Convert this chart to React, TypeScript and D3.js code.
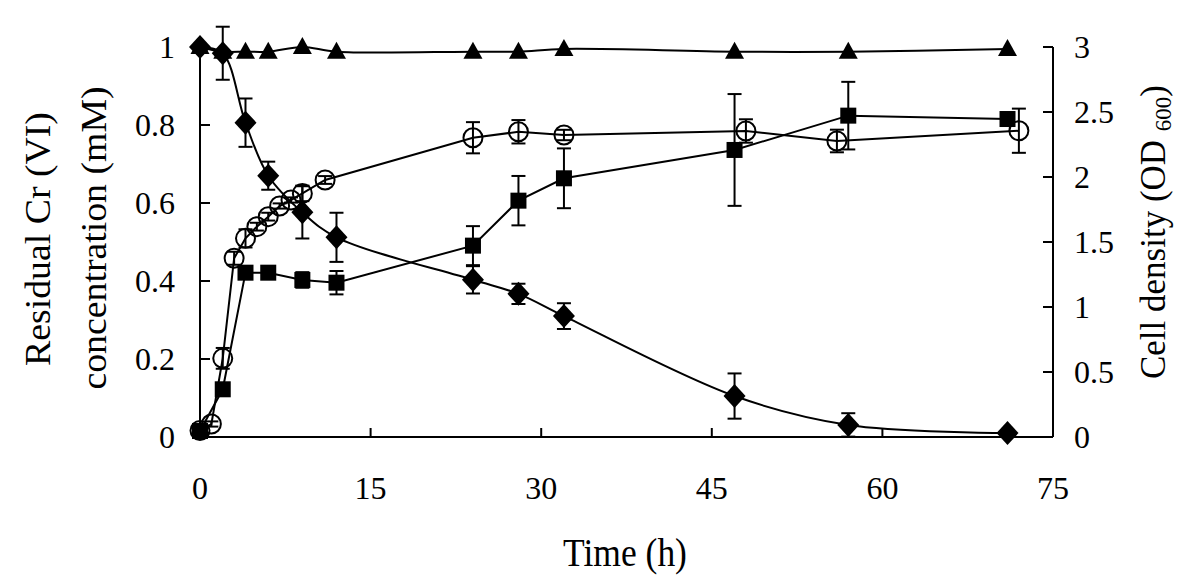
import React from "react";
import * as d3 from "d3";

// ---- data ----
const diamondTime = [0, 2, 4, 6, 9, 12, 24, 28, 32, 47, 57, 71];
const diamondVal = [1.0, 0.984, 0.806, 0.67, 0.576, 0.512, 0.403, 0.367, 0.31, 0.105, 0.031, 0.01];
const diamondErr = [0, 0.068, 0.062, 0.036, 0.067, 0.063, 0.035, 0.026, 0.033, 0.058, 0.03, 0];

const triangleTime = [0, 2, 4, 6, 9, 12, 24, 28, 32, 47, 57, 71];
const triangleVal = [1.0, 0.988, 0.988, 0.988, 1.0, 0.988, 0.988, 0.988, 0.995, 0.988, 0.988, 0.995];

const circleTime = [0, 1, 2, 3, 4, 5, 6, 7, 8, 9, 11, 24, 28, 32, 48, 56, 72];
const circleVal = [0.05, 0.1, 0.605, 1.375, 1.528, 1.618, 1.695, 1.777, 1.823, 1.874, 1.977, 2.302, 2.348, 2.323, 2.354, 2.277, 2.356];
const circleErr = [0, 0.02, 0.08, 0.05, 0.07, 0.03, 0.03, 0.02, 0.02, 0.06, 0.03, 0.12, 0.09, 0.04, 0.09, 0.087, 0.17];

const squareTime = [0, 2, 4, 6, 9, 12, 24, 28, 32, 47, 57, 71];
const squareVal = [0.046, 0.367, 1.264, 1.264, 1.208, 1.187, 1.472, 1.818, 1.99, 2.208, 2.472, 2.446];
const squareErr = [0, 0.04, 0.03, 0.03, 0.06, 0.09, 0.15, 0.19, 0.23, 0.43, 0.26, 0.05];

const xTicks = [0, 15, 30, 45, 60, 75];
const leftTicks = [0, 0.2, 0.4, 0.6, 0.8, 1];
const rightTicks = [0, 0.5, 1, 1.5, 2, 2.5, 3];

const FONT = "'Liberation Serif', 'Times New Roman', serif";

export default function App() {
  const x = d3.scaleLinear().domain([0, 75]).range([200, 1053]);
  const yL = d3.scaleLinear().domain([0, 1]).range([437, 47]);
  const yR = d3.scaleLinear().domain([0, 3]).range([437, 47]);

  const smooth = (t: number[], v: number[], y: d3.ScaleLinear<number, number>) =>
    d3.line<number>().x((_, i) => x(t[i])).y((d) => y(d)).curve(d3.curveCatmullRom.alpha(0.5))(v) || "";
  const straight = (t: number[], v: number[], y: d3.ScaleLinear<number, number>) =>
    d3.line<number>().x((_, i) => x(t[i])).y((d) => y(d))(v) || "";

  const errBars = (t: number[], v: number[], e: number[], y: d3.ScaleLinear<number, number>, key: string) =>
    v.map((d, i) =>
      e[i] > 0 ? (
        <g key={key + i} stroke="#000" strokeWidth={2}>
          <line x1={x(t[i])} x2={x(t[i])} y1={y(d - e[i])} y2={y(d + e[i])} />
          <line x1={x(t[i]) - 7} x2={x(t[i]) + 7} y1={y(d - e[i])} y2={y(d - e[i])} />
          <line x1={x(t[i]) - 7} x2={x(t[i]) + 7} y1={y(d + e[i])} y2={y(d + e[i])} />
        </g>
      ) : null
    );

  return (
    <svg width={1200} height={588} style={{ position: "absolute", left: 0, top: 0, background: "#fff" }} fontFamily={FONT}>
      <rect width={1200} height={588} fill="#fff" />
      {/* axes */}
      <g stroke="#000" strokeWidth={2} fill="none">
        <line x1={200} x2={200} y1={yL(1)} y2={yL(0)} />
        <line x1={1053} x2={1053} y1={yR(3)} y2={yR(0)} />
        <line x1={x(0)} x2={x(75)} y1={437} y2={437} />
        {leftTicks.map((t) => (
          <line key={"lt" + t} x1={200} x2={210} y1={yL(t)} y2={yL(t)} />
        ))}
        {rightTicks.map((t) => (
          <line key={"rt" + t} x1={1043} x2={1053} y1={yR(t)} y2={yR(t)} />
        ))}
        {xTicks.map((t) => (
          <line key={"xt" + t} x1={x(t)} x2={x(t)} y1={428} y2={437} />
        ))}
      </g>
      {/* tick labels */}
      <g fontSize={32} fill="#000">
        {leftTicks.map((t) => (
          <text key={"ll" + t} x={175} y={yL(t)} dy="0.34em" textAnchor="end">{String(t)}</text>
        ))}
        {rightTicks.map((t) => (
          <text key={"rl" + t} x={1074} y={yR(t)} dy="0.34em" textAnchor="start">{String(t)}</text>
        ))}
        {xTicks.map((t) => (
          <text key={"xl" + t} x={x(t)} y={499} textAnchor="middle">{String(t)}</text>
        ))}
      </g>
      {/* axis titles */}
      <g fontSize={35} fill="#000">
        <text transform="translate(625,566) scale(1,1.1)" textAnchor="middle" fontSize={35.5}>Time (h)</text>
        <text transform="translate(50,239) scale(1,1.08) rotate(-90)" textAnchor="middle">Residual Cr (VI)</text>
        <text transform="translate(106,238) scale(1,1.08) rotate(-90)" textAnchor="middle">concentration (mM)</text>
        <text transform="translate(1165,232) rotate(-90)" textAnchor="middle">
          Cell density (OD <tspan fontSize={23} dy={6}>600</tspan><tspan dy={-6}>)</tspan>
        </text>
      </g>
      {/* lines */}
      <g fill="none" stroke="#000" strokeWidth={2}>
        <path d={smooth(triangleTime, triangleVal, yL)} />
        <path d={smooth(diamondTime, diamondVal, yL)} />
        <path d={straight(circleTime, circleVal, yR)} />
        <path d={straight(squareTime, squareVal, yR)} />
      </g>
      {/* error bars */}
      {errBars(diamondTime, diamondVal, diamondErr, yL, "de")}
      {errBars(squareTime, squareVal, squareErr, yR, "se")}
      {errBars(circleTime, circleVal, circleErr, yR, "ce")}
      {/* markers */}
      {squareVal.map((d, i) => (
        <rect key={"sq" + i} x={x(squareTime[i]) - 8} y={yR(d) - 8} width={16} height={16} fill="#000" />
      ))}
      {circleVal.map((d, i) => (
        <circle key={"ci" + i} cx={x(circleTime[i])} cy={yR(d)} r={9.5} fill="none" stroke="#000" strokeWidth={2} />
      ))}
      {triangleVal.map((d, i) => {
        const cx = x(triangleTime[i]);
        const cy = yL(d);
        return <path key={"tr" + i} d={`M${cx},${cy - 10}L${cx + 9.5},${cy + 7}L${cx - 9.5},${cy + 7}Z`} fill="#000" />;
      })}
      {diamondVal.map((d, i) => {
        const cx = x(diamondTime[i]);
        const cy = yL(d);
        return <path key={"di" + i} d={`M${cx},${cy - 12}L${cx + 11},${cy}L${cx},${cy + 12}L${cx - 11},${cy}Z`} fill="#000" />;
      })}
    </svg>
  );
}
